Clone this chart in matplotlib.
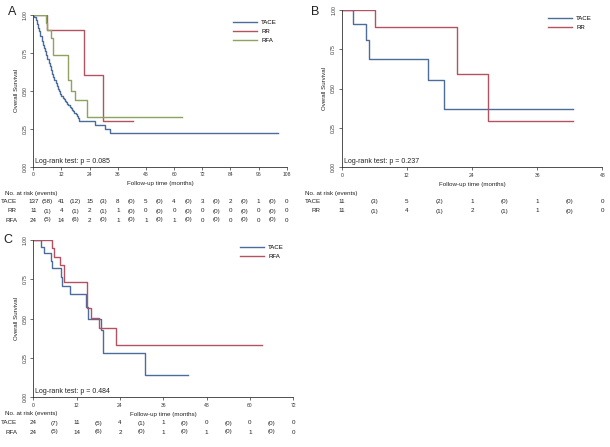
import matplotlib
matplotlib.use("Agg")
import matplotlib.pyplot as plt
from matplotlib import transforms

plt.rcParams['font.family'] = ['Liberation Sans', 'DejaVu Sans']

W, H = 610, 447

C_TACE = "#4c6c9b"
C_RR = "#b55262"
C_RFA = "#8da35f"
TXT = "#222222"

# ---------------- Panel A data ----------------
a_tace_t = [0, 0.5, 1, 1.5, 2, 2.5, 3, 3.5, 4, 4.5, 5, 5.5, 6, 6.5, 7, 7.5, 8, 8.5,
            9, 9.5, 10, 10.5, 11, 11.5, 12, 12.5, 13, 13.5, 14, 14.5, 15, 15.5, 16,
            16.5, 17, 17.5, 18, 18.5, 19, 19.6, 26.3, 30.4, 32.7, 104.4]
a_tace_s = [1.0, 0.985, 0.965, 0.94, 0.915, 0.89, 0.86, 0.83, 0.80, 0.78, 0.76, 0.735,
            0.71, 0.685, 0.66, 0.635, 0.61, 0.59, 0.57, 0.55, 0.53, 0.51, 0.495, 0.48,
            0.465, 0.455, 0.445, 0.435, 0.425, 0.415, 0.405, 0.395, 0.385, 0.375, 0.365,
            0.355, 0.345, 0.335, 0.32, 0.30, 0.274, 0.247, 0.219, 0.219]
a_rr_t = [0, 5.9, 21.4, 29.8, 42.6]
a_rr_s = [1.0, 0.90, 0.60, 0.30, 0.30]
a_rfa_t = [0, 5.3, 5.8, 7.5, 8.5, 14.8, 15.0, 16.0, 17.8, 22.8, 63.2]
a_rfa_s = [1.0, 0.947, 0.90, 0.845, 0.735, 0.65, 0.57, 0.50, 0.44, 0.325, 0.325]

a_risk_tace = ["137", "(58)", "41", "(12)", "15", "(3)", "8", "(0)", "5", "(0)", "4", "(0)", "3", "(0)", "2", "(0)", "1", "(0)", "0"]
a_risk_rr = ["11", "(1)", "4", "(1)", "2", "(1)", "1", "(0)", "0", "(0)", "0", "(0)", "0", "(0)", "0", "(0)", "0", "(0)", "0"]
a_risk_rfa = ["24", "(5)", "14", "(6)", "2", "(0)", "1", "(0)", "1", "(0)", "1", "(0)", "0", "(0)", "0", "(0)", "0", "(0)", "0"]

# ---------------- Panel B data ----------------
b_tace_t = [0, 2.0, 4.5, 5.0, 15.9, 18.8, 42.6]
b_tace_s = [1.0, 0.909, 0.808, 0.69, 0.553, 0.369, 0.369]
b_rr_t = [0, 6.1, 21.3, 27.0, 42.6]
b_rr_s = [1.0, 0.889, 0.593, 0.296, 0.296]
b_risk_tace = ["11", "(3)", "5", "(2)", "1", "(0)", "1", "(0)", "0"]
b_risk_rr = ["11", "(1)", "4", "(1)", "2", "(1)", "1", "(0)", "0"]

# ---------------- Panel C data ----------------
c_tace_t = [0, 2.0, 3.1, 4.8, 5.3, 7.7, 7.9, 10.3, 14.5, 15.2, 18.8, 19.3, 30.9, 42.9]
c_tace_s = [1.0, 0.958, 0.915, 0.868, 0.82, 0.767, 0.71, 0.654, 0.575, 0.50, 0.43, 0.284, 0.142, 0.142]
c_rfa_t = [0, 5.2, 5.7, 7.3, 8.5, 14.8, 15.0, 16.1, 18.1, 22.8, 63.2]
c_rfa_s = [1.0, 0.947, 0.894, 0.84, 0.735, 0.65, 0.566, 0.502, 0.44, 0.332, 0.332]
c_risk_tace = ["24", "(7)", "11", "(5)", "4", "(1)", "1", "(0)", "0", "(0)", "0", "(0)", "0"]
c_risk_rfa = ["24", "(5)", "14", "(6)", "2", "(0)", "1", "(0)", "1", "(0)", "1", "(0)", "0"]

yticks = [0, 0.25, 0.5, 0.75, 1.0]
ytick_labels = ["0.00", "0.25", "0.50", "0.75", "1.00"]

fig = plt.figure(figsize=(W / 100, H / 100), dpi=100)


def px_axes(left, top, right, bottom):
    return fig.add_axes([left / W, 1 - bottom / H, (right - left) / W, (bottom - top) / H])


def style_axes(ax, xmax, pval):
    ax.set_xlim(0, xmax)
    ax.set_ylim(0, 1)
    ax.set_xticks(list(range(0, xmax + 1, 12)))
    ax.set_yticks(yticks)
    ax.set_yticklabels(ytick_labels, rotation=90, va='center')
    for s in ['top', 'right']:
        ax.spines[s].set_visible(False)
    for s in ['left', 'bottom']:
        ax.spines[s].set_linewidth(0.6)
        ax.spines[s].set_color("#333333")
    ax.tick_params(length=2.5, width=0.5, labelsize=3.6, pad=1.5, colors="#333333")
    ax.set_ylabel("Overall Survival", fontsize=4.4, labelpad=3, color=TXT)
    ax.set_xlabel("Follow-up time (months)", fontsize=4.5, labelpad=3, color=TXT)
    ax.patch.set_alpha(0)
    ax.text(0.008, 0.012, f"Log-rank test: p = {pval}", transform=ax.transAxes,
            fontsize=5.0, ha='left', va='bottom', color=TXT)


def risk_table(ax, xmax, header_left, label_right, header_y, rows):
    tr = transforms.blended_transform_factory(ax.transData, fig.transFigure)
    fig.text(header_left / W, 1 - header_y / H, "No. at risk (events)", fontsize=4.5,
             ha='left', va='center', color=TXT)
    for name, vals, y in rows:
        fig.text(label_right / W, 1 - y / H, name, fontsize=4.5, ha='right', va='center', color=TXT)
        for i, v in enumerate(vals):
            ax.text(i * 6, 1 - y / H, v, transform=tr, fontsize=4.5, ha='center',
                    va='center', color=TXT, clip_on=False)


def add_legend(ax, x, y, handles_labels):
    hs = [h for h, _ in handles_labels]
    ls = [l for _, l in handles_labels]
    ax.legend(hs, ls, loc='upper left', bbox_to_anchor=(x / W, 1 - y / H),
              bbox_transform=fig.transFigure, frameon=False, fontsize=4.4,
              handlelength=3.9, handletextpad=0.7, labelspacing=0.62,
              borderpad=0, borderaxespad=0)


LW = 1.0

# ---------- Panel A ----------
axA = px_axes(33.3, 14.7, 286.7, 166.7)
lA1, = axA.step(a_tace_t, a_tace_s, where='post', color=C_TACE, lw=LW)
lA2, = axA.step(a_rr_t, a_rr_s, where='post', color=C_RR, lw=LW)
lA3, = axA.step(a_rfa_t, a_rfa_s, where='post', color=C_RFA, lw=LW)
style_axes(axA, 108, "0.085")
add_legend(axA, 233, 20, [(lA1, "TACE"), (lA2, "RR"), (lA3, "RFA")])
risk_table(axA, 108, 5, 17, 193, [("TACE", a_risk_tace, 202), ("RR", a_risk_rr, 211), ("RFA", a_risk_rfa, 220)])
fig.text(12 / W, 1 - 12 / H, "A", fontsize=9, ha='center', va='center', color=TXT)

# ---------- Panel B ----------
axB = px_axes(341.7, 10, 602.3, 167)
lB1, = axB.step(b_tace_t, b_tace_s, where='post', color=C_TACE, lw=LW)
lB2, = axB.step(b_rr_t, b_rr_s, where='post', color=C_RR, lw=LW)
style_axes(axB, 48, "0.237")
add_legend(axB, 548, 16, [(lB1, "TACE"), (lB2, "RR")])
risk_table(axB, 48, 305, 321, 193, [("TACE", b_risk_tace, 202), ("RR", b_risk_rr, 211)])
fig.text(315 / W, 1 - 12 / H, "B", fontsize=9, ha='center', va='center', color=TXT)

# ---------- Panel C ----------
axC = px_axes(33.3, 240, 293.3, 397.3)
lC1, = axC.step(c_tace_t, c_tace_s, where='post', color=C_TACE, lw=LW)
lC2, = axC.step(c_rfa_t, c_rfa_s, where='post', color=C_RR, lw=LW)
style_axes(axC, 72, "0.484")
add_legend(axC, 240, 245, [(lC1, "TACE"), (lC2, "RFA")])
risk_table(axC, 72, 5, 17, 414, [("TACE", c_risk_tace, 423), ("RFA", c_risk_rfa, 432)])
fig.text(8 / W, 1 - 240 / H, "C", fontsize=9, ha='center', va='center', color=TXT)

fig.savefig("out.png", dpi=100, facecolor='white')
